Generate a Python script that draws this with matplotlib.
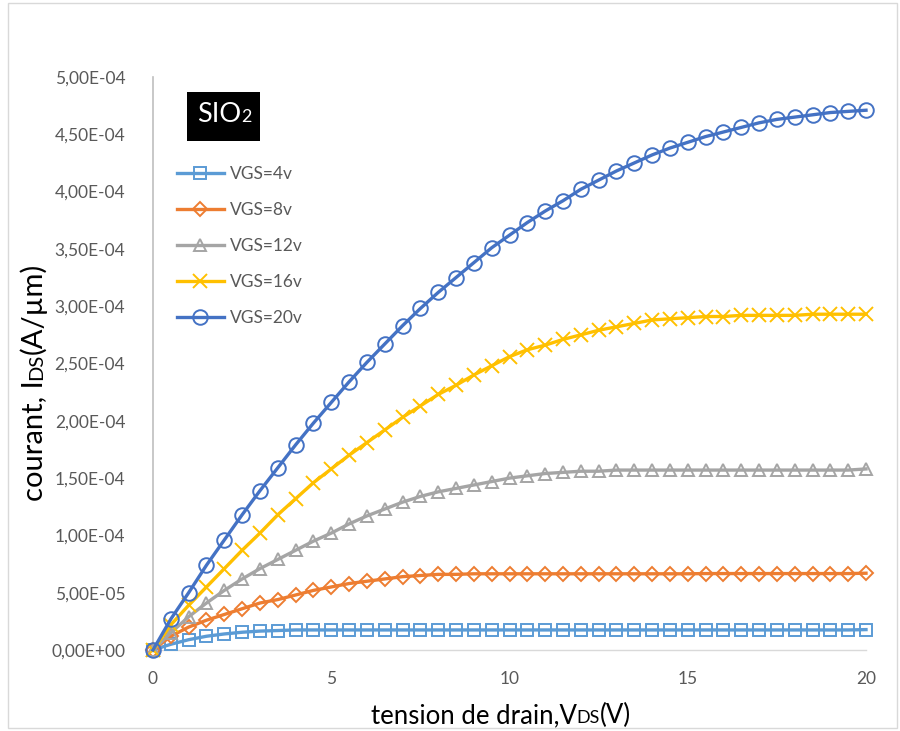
import numpy as np
import matplotlib
matplotlib.use("Agg")
import matplotlib.pyplot as plt
from matplotlib.patches import Rectangle
from matplotlib.transforms import IdentityTransform

plt.rcParams['font.family'] = ['Lato', 'DejaVu Sans']

# drain voltage, 0 to 20 V every 0.5 V
vds = [i * 0.5 for i in range(41)]

# drain current in units of 1e-4 A/um
ids_4 = [0, 0.05, 0.09, 0.12, 0.14, 0.155, 0.165, 0.17, 0.175, 0.175,
         0.175, 0.175, 0.175, 0.175, 0.175, 0.175, 0.175, 0.175, 0.175, 0.175,
         0.175, 0.175, 0.175, 0.175, 0.175, 0.175, 0.175, 0.175, 0.175, 0.175,
         0.175, 0.175, 0.175, 0.175, 0.175, 0.175, 0.175, 0.175, 0.175, 0.175, 0.178]
ids_8 = [0, 0.12, 0.20, 0.26, 0.31, 0.36, 0.41, 0.44, 0.48, 0.52,
         0.55, 0.58, 0.60, 0.62, 0.64, 0.65, 0.66, 0.66, 0.665, 0.665,
         0.665, 0.665, 0.665, 0.665, 0.665, 0.665, 0.665, 0.665, 0.665, 0.665,
         0.665, 0.667, 0.667, 0.667, 0.667, 0.667, 0.667, 0.667, 0.667, 0.667, 0.67]
ids_12 = [0, 0.15, 0.29, 0.41, 0.52, 0.62, 0.71, 0.79, 0.87, 0.95,
          1.02, 1.10, 1.17, 1.23, 1.29, 1.34, 1.38, 1.41, 1.44, 1.47,
          1.50, 1.52, 1.54, 1.55, 1.56, 1.56, 1.57, 1.57, 1.57, 1.57,
          1.57, 1.57, 1.57, 1.57, 1.57, 1.57, 1.57, 1.57, 1.57, 1.57, 1.58]
ids_16 = [0, 0.22, 0.39, 0.55, 0.71, 0.87, 1.02, 1.18, 1.32, 1.46,
          1.58, 1.70, 1.81, 1.92, 2.03, 2.13, 2.23, 2.31, 2.40, 2.48,
          2.56, 2.62, 2.66, 2.71, 2.75, 2.79, 2.82, 2.85, 2.88, 2.89,
          2.90, 2.91, 2.91, 2.92, 2.92, 2.92, 2.92, 2.93, 2.93, 2.93, 2.93]
ids_20 = [0, 0.27, 0.50, 0.74, 0.96, 1.18, 1.39, 1.59, 1.79, 1.98,
          2.16, 2.34, 2.51, 2.67, 2.83, 2.98, 3.12, 3.25, 3.38, 3.51,
          3.62, 3.73, 3.83, 3.92, 4.02, 4.10, 4.18, 4.25, 4.32, 4.38,
          4.43, 4.48, 4.52, 4.56, 4.60, 4.63, 4.65, 4.67, 4.69, 4.70, 4.71]

labels = ["VGS=4v", "VGS=8v", "VGS=12v", "VGS=16v", "VGS=20v"]
series = [ids_4, ids_8, ids_12, ids_16, ids_20]
colors = ["#5B9BD5", "#ED7D31", "#A5A5A5", "#FFC000", "#4472C4"]
markers = ["s", "D", "^", "x", "o"]
msizes = [8.5, 7.5, 9, 10.5, 10.5]

yticks = [0, 0.5e-4, 1e-4, 1.5e-4, 2e-4, 2.5e-4, 3e-4, 3.5e-4, 4e-4, 4.5e-4, 5e-4]
ytick_labels = ["0,00E+00", "5,00E-05", "1,00E-04", "1,50E-04", "2,00E-04", "2,50E-04",
                "3,00E-04", "3,50E-04", "4,00E-04", "4,50E-04", "5,00E-04"]
xticks = [0, 5, 10, 15, 20]

W, H = 900, 731
fig = plt.figure(figsize=(W / 100, H / 100), dpi=100)
ax = fig.add_axes([153 / W, 1 - 650 / H, (866 - 153) / W, (650 - 77) / H])

for y, lab, c, m, ms in zip(series, labels, colors, markers, msizes):
    yv = np.array(y) * 1e-4
    ax.plot(vds, yv, color=c, lw=2.4, marker=m, ms=ms, mfc='none', mec=c,
            mew=1.4, label=lab, clip_on=False, zorder=3)

ax.set_xlim(0, 20)
ax.set_ylim(0, 5e-4)
ax.set_xticks(xticks)
ax.set_xticklabels([str(v) for v in xticks])
ax.set_yticks(yticks)
ax.set_yticklabels(ytick_labels)
ax.tick_params(length=0, labelcolor='#595959', labelsize=12.5)
ax.tick_params(axis='y', pad=20)
ax.tick_params(axis='x', pad=15)
for s in ['top', 'right']:
    ax.spines[s].set_visible(False)
ax.spines['left'].set_color('#BFBFBF')
ax.spines['bottom'].set_color('#D9D9D9')
ax.spines['left'].set_linewidth(1.2)
ax.spines['bottom'].set_linewidth(1.0)

leg = ax.legend(loc='upper left', bbox_to_anchor=(17 / 713, 1 - 82 / 573), frameon=False,
                fontsize=12.5, handlelength=2.7, labelspacing=1.15, handletextpad=0.35,
                borderaxespad=0)
for t in leg.get_texts():
    t.set_color('#595959')

# chart border
fig.patches.append(Rectangle((8 / W, 3 / H), 889 / W, 725 / H, transform=fig.transFigure,
                             fill=False, ec='#D9D9D9', lw=1))

renderer = fig.canvas.get_renderer()


def rich(pieces, x, y, vertical=False, color='black', center=True):
    # place text pieces one after the other along the baseline (pixel coords, image y down)
    objs = []
    total = 0
    for s, size in pieces:
        t = fig.text(0, 0, s, fontsize=size, color=color, transform=IdentityTransform(),
                     rotation=90 if vertical else 0, rotation_mode='anchor',
                     ha='left', va='baseline')
        ext = t.get_window_extent(renderer)
        L = ext.height if vertical else ext.width
        objs.append((t, L))
        total += L
    start = -total / 2 if center else 0
    pos = start
    for t, L in objs:
        if vertical:
            t.set_position((x, (H - y) + pos))
        else:
            t.set_position((x + pos, H - y))
        pos += L


rich([("courant, I", 21), ("DS", 14.5), ("(A/µm)", 21)], 42, 382, vertical=True)
rich([("tension de drain,V", 18.5), ("DS", 13), ("(V)", 18.5)], 501, 723)

# SiO2 tag
fig.patches.append(Rectangle((187 / W, 1 - 141 / H), 73 / W, 49 / H, transform=fig.transFigure,
                             fc='black', ec='none'))
rich([("SIO", 19.5), ("2", 13)], 224, 122, color='white')

fig.savefig("out.png", dpi=100)
